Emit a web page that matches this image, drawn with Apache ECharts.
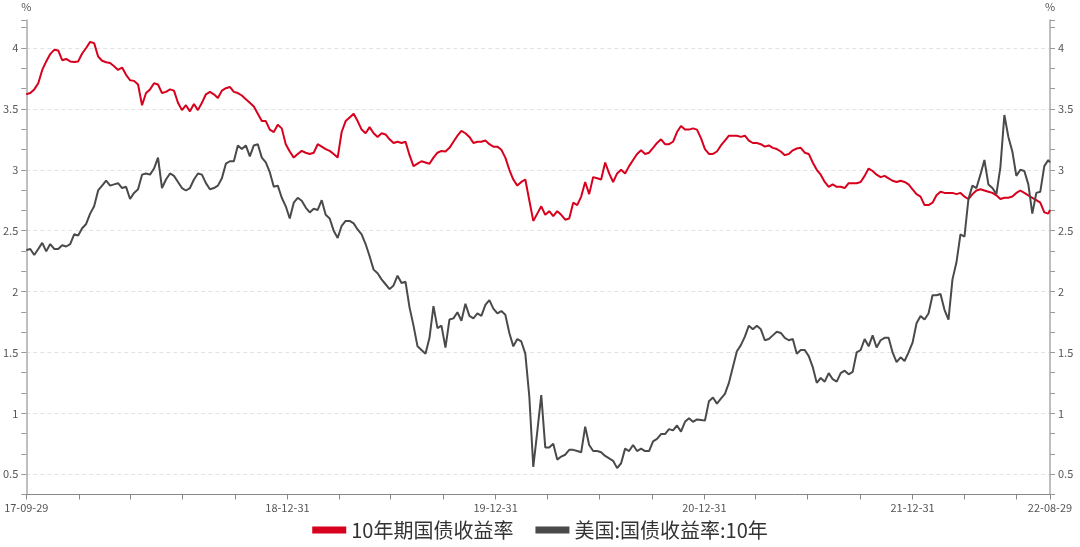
<!DOCTYPE html>
<html>
<head>
<meta charset="utf-8">
<script src="https://cdn.jsdelivr.net/npm/echarts@6/dist/echarts.min.js"></script>
<style>html,body{margin:0;padding:0;background:#fff}#c{width:1080px;height:547px}</style>
</head>
<body>
<div id="c"></div>
<script>
// ---- data ----
const startDate = '2017-09-29';
const endDate = '2022-08-29';
const sampleStepDays = 7; // weekly readings, last reading on endDate
const seriesNames = ['10年期国债收益率', '美国:国债收益率:10年'];
const cnYield = [
3.62,3.63,3.66,3.71,3.82,3.89,3.95,3.985,3.98,3.90,
3.91,3.89,3.885,3.89,3.955,4.00,4.05,4.04,3.93,3.895,
3.883,3.877,3.85,3.82,3.84,3.78,3.735,3.73,3.70,3.53,
3.63,3.66,3.71,3.70,3.63,3.64,3.66,3.65,3.55,3.49,
3.53,3.48,3.54,3.49,3.55,3.62,3.64,3.62,3.59,3.65,
3.67,3.68,3.64,3.63,3.61,3.58,3.55,3.52,3.46,3.40,
3.40,3.33,3.31,3.37,3.34,3.21,3.15,3.10,3.13,3.155,
3.14,3.13,3.14,3.21,3.19,3.17,3.155,3.13,3.10,3.31,
3.40,3.43,3.46,3.40,3.33,3.30,3.35,3.30,3.27,3.30,
3.29,3.25,3.22,3.23,3.22,3.23,3.12,3.03,3.05,3.07,
3.06,3.05,3.10,3.14,3.155,3.15,3.18,3.23,3.28,3.32,
3.30,3.27,3.22,3.23,3.23,3.24,3.21,3.19,3.19,3.165,
3.10,3.00,2.92,2.87,2.90,2.92,2.75,2.58,2.64,2.70,
2.63,2.66,2.62,2.66,2.63,2.59,2.60,2.73,2.71,2.78,
2.90,2.80,2.94,2.93,2.92,3.06,2.97,2.90,2.97,3.00,
2.97,3.03,3.08,3.13,3.16,3.13,3.14,3.18,3.22,3.25,
3.21,3.21,3.23,3.31,3.36,3.33,3.33,3.34,3.33,3.26,
3.17,3.13,3.13,3.15,3.20,3.24,3.28,3.28,3.28,3.27,
3.28,3.24,3.22,3.22,3.21,3.19,3.20,3.18,3.17,3.15,
3.12,3.13,3.16,3.175,3.18,3.14,3.13,3.06,3.00,2.96,
2.90,2.86,2.88,2.86,2.86,2.85,2.89,2.89,2.89,2.90,
2.95,3.01,2.99,2.96,2.94,2.95,2.93,2.91,2.90,2.91,
2.90,2.88,2.84,2.80,2.78,2.71,2.71,2.73,2.79,2.82,
2.81,2.81,2.81,2.80,2.81,2.78,2.76,2.80,2.83,2.84,
2.83,2.82,2.81,2.79,2.76,2.77,2.77,2.78,2.81,2.83,
2.81,2.79,2.77,2.75,2.73,2.65,2.64,
2.67
];
const usYield = [
2.34,2.35,2.30,2.35,2.40,2.33,2.39,2.35,2.35,2.38,
2.37,2.39,2.47,2.46,2.52,2.555,2.64,2.70,2.83,2.87,
2.91,2.87,2.88,2.89,2.85,2.86,2.76,2.81,2.84,2.96,
2.97,2.96,3.01,3.10,2.85,2.92,2.97,2.95,2.90,2.85,
2.83,2.85,2.92,2.97,2.96,2.89,2.84,2.85,2.87,2.93,
3.05,3.07,3.07,3.20,3.17,3.20,3.11,3.20,3.21,3.10,
3.06,2.98,2.86,2.87,2.77,2.70,2.60,2.73,2.77,2.745,
2.69,2.65,2.68,2.67,2.75,2.63,2.60,2.50,2.44,2.54,
2.58,2.58,2.56,2.51,2.47,2.39,2.29,2.18,2.15,2.10,
2.06,2.02,2.05,2.13,2.07,2.08,1.87,1.72,1.55,1.52,
1.49,1.62,1.88,1.70,1.72,1.54,1.77,1.78,1.83,1.76,
1.90,1.80,1.78,1.82,1.80,1.89,1.93,1.86,1.82,1.84,
1.81,1.66,1.55,1.61,1.59,1.49,1.14,0.56,0.85,1.15,
0.72,0.72,0.75,0.62,0.645,0.66,0.70,0.70,0.69,0.68,
0.89,0.74,0.69,0.69,0.68,0.65,0.63,0.61,0.55,0.59,
0.71,0.69,0.74,0.69,0.71,0.69,0.69,0.77,0.79,0.83,
0.83,0.87,0.86,0.90,0.85,0.93,0.96,0.93,0.95,0.945,
0.94,1.10,1.13,1.08,1.12,1.16,1.25,1.38,1.51,1.56,
1.63,1.72,1.69,1.72,1.69,1.60,1.61,1.64,1.67,1.66,
1.62,1.60,1.61,1.49,1.52,1.52,1.47,1.38,1.25,1.29,
1.26,1.33,1.28,1.26,1.33,1.35,1.32,1.34,1.50,1.52,
1.61,1.55,1.64,1.54,1.60,1.62,1.62,1.50,1.42,1.46,
1.43,1.50,1.58,1.74,1.80,1.77,1.82,1.97,1.97,1.98,
1.85,1.77,2.10,2.24,2.47,2.45,2.76,2.87,2.85,2.96,
3.08,2.88,2.85,2.80,3.02,3.45,3.27,3.15,2.95,3.00,
2.99,2.88,2.64,2.81,2.82,3.03,3.08,
3.06
];

// ---- categories (every calendar day) ----
function addDays(s, n) {
  const d = new Date(s + 'T00:00:00Z');
  d.setUTCDate(d.getUTCDate() + n);
  return d.toISOString().slice(0, 10);
}
const allDates = [];
for (let i = 0; ; i++) { const s = addDays(startDate, i); allDates.push(s); if (s === endDate) break; }
const sampleDates = [];
for (let i = 0; i < allDates.length; i += sampleStepDays) sampleDates.push(allDates[i]);
if (sampleDates[sampleDates.length - 1] !== endDate) sampleDates.push(endDate);
const lastIdx = allDates.length - 1;
const quarterEnds = ['03-31', '06-30', '09-30', '12-31'];
const minLabelGapDays = 150; // year-end labels too close to the ends are skipped

const cnData = sampleDates.map((d, i) => [d, cnYield[i]]);
const usData = sampleDates.map((d, i) => [d, usYield[i]]);

function isHalfStep(v) { return Math.abs(v * 2 - Math.round(v * 2)) < 1e-6; }
function yLabel(v) { return isHalfStep(v) ? String(Math.round(v * 2) / 2) : ''; }

const font = '"Noto Sans CJK SC","Noto Sans",sans-serif';
function yAxis(pos) {
  return {
    type: 'value', position: pos, min: 1 / 3, max: 4.23, interval: 1 / 6,
    name: '%', nameLocation: 'end', nameGap: 8,
    nameTextStyle: { color: '#555', fontSize: 11, fontFamily: font, align: 'center' },
    axisLine: { show: true, lineStyle: { color: '#aaa', width: 1.5 } },
    axisTick: { show: true, length: 5, lineStyle: { color: '#999' } },
    axisLabel: { color: '#555', fontSize: 11, fontFamily: font, margin: 8, formatter: yLabel },
    splitLine: { show: pos === 'left', lineStyle: { type: [4, 3], color: ['rgba(0,0,0,0)', '#e2e2e2', 'rgba(0,0,0,0)'] } }
  };
}

const chart = echarts.init(document.getElementById('c'), null, { renderer: 'canvas' });
chart.setOption({
  animation: false,
  backgroundColor: '#fff',
  grid: { left: 25, right: 30, top: 20, bottom: 52.5, containLabel: false },
  legend: {
    bottom: 2, left: 'center', icon: 'rect', itemWidth: 34, itemHeight: 7, itemGap: 22,
    textStyle: { fontSize: 20, color: '#333', fontFamily: font },
    data: seriesNames
  },
  xAxis: {
    type: 'category', data: allDates, boundaryGap: false,
    axisLine: { lineStyle: { color: '#888' } },
    axisTick: {
      show: true, length: 5, lineStyle: { color: '#888' },
      interval: (idx, val) => idx === 0 || idx === lastIdx || (idx > 3 && quarterEnds.includes(val.slice(5)))
    },
    axisLabel: {
      color: '#555', fontSize: 11, fontFamily: font, margin: 8,
      interval: (idx, val) => idx === 0 || idx === lastIdx ||
        (val.slice(5) === '12-31' && idx > minLabelGapDays && lastIdx - idx > minLabelGapDays),
      formatter: v => v.slice(2)
    },
    splitLine: { show: false }
  },
  yAxis: [yAxis('left'), yAxis('right')],
  series: [
    { name: seriesNames[0], type: 'line', data: cnData, showSymbol: false, symbol: 'none',
      lineStyle: { color: '#d7001d', width: 2 }, itemStyle: { color: '#d7001d' } },
    { name: seriesNames[1], type: 'line', data: usData, showSymbol: false, symbol: 'none',
      lineStyle: { color: '#4a4a4a', width: 2 }, itemStyle: { color: '#4a4a4a' } }
  ]
});
</script>
</body>
</html>
